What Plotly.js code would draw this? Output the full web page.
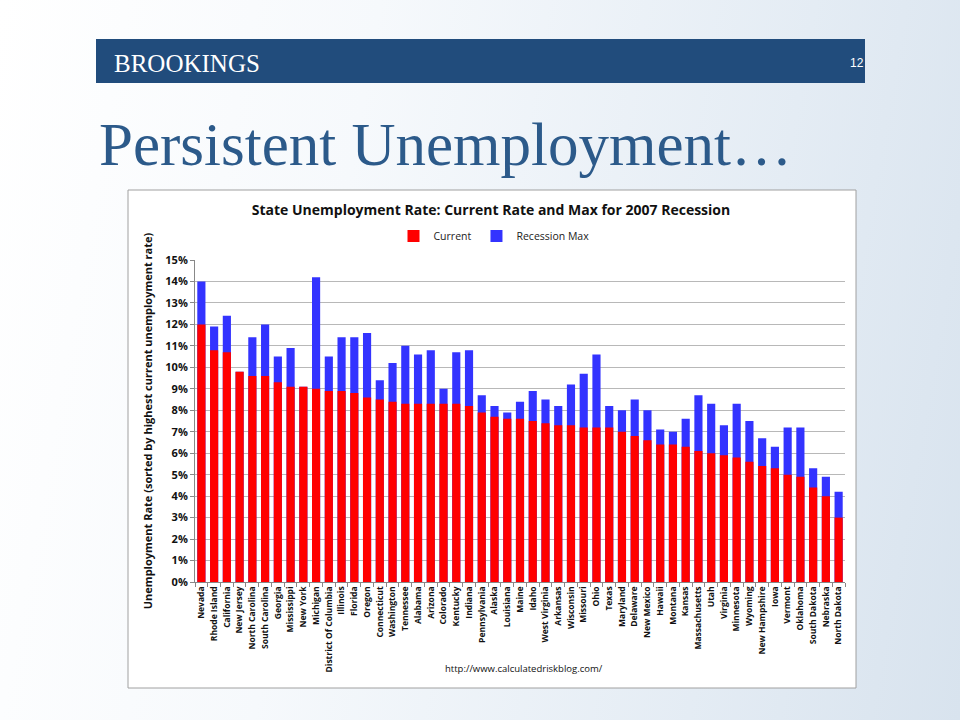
<!DOCTYPE html>
<html>
<head>
<meta charset="utf-8">
<script src="https://cdn.plot.ly/plotly-3.0.1.min.js"></script>
<style>
html,body{margin:0;padding:0;}
body{width:960px;height:720px;background:linear-gradient(100deg,#ffffff 0%,#f6f9fc 35%,#e4ecf4 75%,#d8e3ee 100%);}
#chart{width:960px;height:720px;}
</style>
</head>
<body>
<div id="chart"></div>
<script>
const states = ["Nevada","Rhode Island","California","New Jersey","North Carolina","South Carolina","Georgia","Mississippi","New York","Michigan","District Of Columbia","Illinois","Florida","Oregon","Connecticut","Washington","Tennessee","Alabama","Arizona","Colorado","Kentucky","Indiana","Pennsylvania","Alaska","Louisiana","Maine","Idaho","West Virginia","Arkansas","Wisconsin","Missouri","Ohio","Texas","Maryland","Delaware","New Mexico","Hawaii","Montana","Kansas","Massachusetts","Utah","Virginia","Minnesota","Wyoming","New Hampshire","Iowa","Vermont","Oklahoma","South Dakota","Nebraska","North Dakota"];
const currentRate = [12.0,10.8,10.7,9.8,9.6,9.6,9.3,9.1,9.1,9.0,8.9,8.9,8.8,8.6,8.5,8.4,8.3,8.3,8.3,8.3,8.3,8.2,7.9,7.7,7.6,7.6,7.5,7.4,7.3,7.3,7.2,7.2,7.2,7.0,6.8,6.6,6.4,6.4,6.3,6.1,6.0,5.9,5.8,5.6,5.4,5.3,5.0,4.9,4.4,4.0,3.0];
const recessionMax = [14.0,11.9,12.4,9.8,11.4,12.0,10.5,10.9,9.1,14.2,10.5,11.4,11.4,11.6,9.4,10.2,11.0,10.6,10.8,9.0,10.7,10.8,8.7,8.2,7.9,8.4,8.9,8.5,8.2,9.2,9.7,10.6,8.2,8.0,8.5,8.0,7.1,7.0,7.6,8.7,8.3,7.3,8.3,7.5,6.7,6.3,7.2,7.2,5.3,4.9,4.2];
const yTicks = [0,1,2,3,4,5,6,7,8,9,10,11,12,13,14,15];
const yTickLabels = yTicks.map(v => v + "%");

// plot area in pixels
const L = 195, R = 845, T = 260, B = 582;
const px = x => (x - L) / (R - L);
const py = y => (B - y) / (B - T);

const traces = [
  {type:"bar", name:"Recession Max", x:states, y:recessionMax, marker:{color:"#3333FF"}, legendrank:2, hoverinfo:"x+y"},
  {type:"bar", name:"Current", x:states, y:currentRate, marker:{color:"#FF0000"}, legendrank:1, hoverinfo:"x+y"}
];

const font = "Open Sans, Liberation Sans, Arial, sans-serif";
const layout = {
  width:960, height:720,
  margin:{l:L, r:960-R, t:T, b:720-B, pad:0},
  paper_bgcolor:"rgba(0,0,0,0)",
  plot_bgcolor:"#ffffff",
  barmode:"overlay",
  bargap:0.36,
  showlegend:true,
  legend:{orientation:"h", x:px(494), xanchor:"center", y:py(236), yanchor:"middle",
          font:{family:font, size:10.5, color:"#222"}, bgcolor:"rgba(0,0,0,0)", itemwidth:30, traceorder:"normal"},
  title:{text:"<b>State Unemployment Rate: Current Rate and Max for 2007 Recession</b>",
         xref:"paper", x:px(491), xanchor:"center", yref:"container", y:1-210/720, yanchor:"middle",
         font:{family:font, size:14, color:"#111"}},
  xaxis:{type:"category", tickangle:-90, tickfont:{family:font, size:8.5, color:"#111", weight:"bold"},
         ticks:"outside", ticklen:4, tickcolor:"#888", tickson:"boundaries",
         showline:true, linecolor:"#888", linewidth:1, showgrid:false, automargin:false},
  yaxis:{range:[0,15], tickvals:yTicks, ticktext:yTickLabels, tickfont:{family:font, size:11, color:"#111", weight:"bold"},
         ticks:"outside", ticklen:4, tickcolor:"#888", showline:true, linecolor:"#888", linewidth:1,
         showgrid:true, gridcolor:"#b8b8b8", gridwidth:1, zeroline:false, automargin:false,
         title:{text:"<b>Unemployment Rate (sorted by highest current unemployment rate)</b>", standoff:10,
                font:{family:font, size:11, color:"#111"}}},
  shapes:[
    {type:"rect", xref:"paper", yref:"paper", x0:px(128), x1:px(856), y0:py(688), y1:py(190),
     fillcolor:"#ffffff", line:{color:"#a0a0a0", width:1}, layer:"below"},
    {type:"rect", xref:"paper", yref:"paper", x0:px(96), x1:px(865), y0:py(83), y1:py(39),
     fillcolor:"#214c7c", line:{width:0}, layer:"below"}
  ],
  annotations:[
    {text:"BROOKINGS", xref:"paper", yref:"paper", x:px(112), y:py(63), xanchor:"left", yanchor:"middle",
     showarrow:false, font:{family:"Liberation Serif, DejaVu Serif, serif", size:25, color:"#ffffff"}},
    {text:"12", xref:"paper", yref:"paper", x:px(857), y:py(63), xanchor:"center", yanchor:"middle",
     showarrow:false, font:{family:"Liberation Sans, Arial, sans-serif", size:12, color:"#ffffff"}},
    {text:"Persistent Unemployment…", xref:"paper", yref:"paper", x:px(97), y:py(144), xanchor:"left", yanchor:"middle",
     showarrow:false, font:{family:"Liberation Serif, DejaVu Serif, serif", size:61, color:"#2c5a8a"}},
    {text:"http://www.calculatedriskblog.com/", xref:"paper", yref:"paper", x:px(524), y:py(668), xanchor:"center", yanchor:"middle",
     showarrow:false, font:{family:font, size:9.5, color:"#111"}}
  ]
};

Plotly.newPlot("chart", traces, layout, {displayModeBar:false, staticPlot:true});
</script>
</body>
</html>
